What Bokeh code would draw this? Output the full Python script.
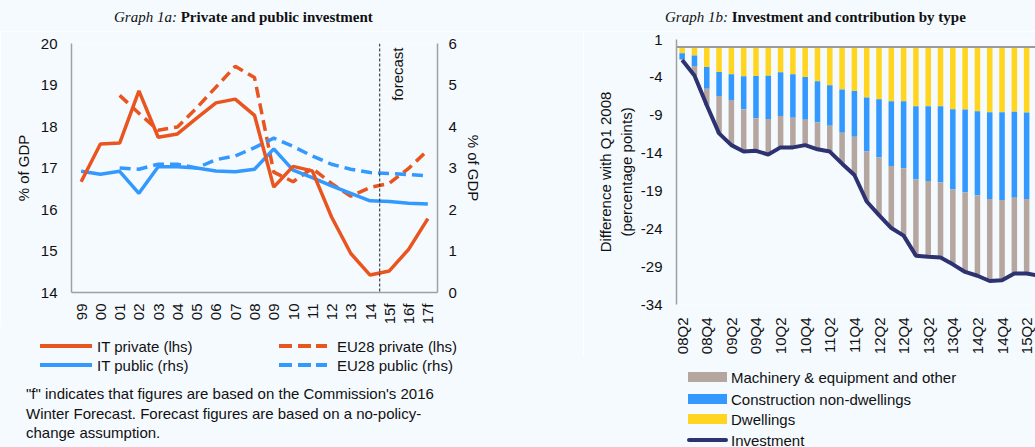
from math import pi
from bokeh.plotting import figure
from bokeh.layouts import row, column
from bokeh.models import (Range1d, LinearAxis, FixedTicker, Span, Label, ColumnDataSource, Div)
from bokeh.embed import file_html
from bokeh.resources import INLINE

# ---------------- data: Graph 1a ----------------
years = ["99", "00", "01", "02", "03", "04", "05", "06", "07", "08", "09", "10",
         "11", "12", "13", "14", "15f", "16f", "17f"]
it_private = [16.67, 17.58, 17.6, 18.86, 17.74, 17.82, 18.2, 18.57, 18.66, 18.27, 16.54,
              17.04, 16.93, 15.82, 14.94, 14.42, 14.52, 15.04, 15.78]
eu_private = [None, None, 18.75, 18.32, 17.91, 17.99, 18.45, 18.95, 19.45, 19.18, 16.9,
              16.67, 16.99, 16.63, 16.32, 16.53, 16.63, 16.99, 17.43]
it_public = [2.92, 2.85, 2.92, 2.39, 3.03, 3.03, 3.0, 2.93, 2.91, 2.97, 3.46, 2.95, 2.77,
             2.57, 2.39, 2.21, 2.19, 2.15, 2.13]
eu_public = [None, None, 3.0, 2.97, 3.09, 3.09, 3.0, 3.2, 3.29, 3.49, 3.72, 3.52, 3.29,
             3.09, 2.97, 2.89, 2.87, 2.84, 2.81]
forecast_start = 15.5  # between "14" and "15f"
legend_1a = ["IT private (lhs)", "IT public (rhs)", "EU28 private (lhs)", "EU28 public (rhs)"]

# ---------------- data: Graph 1b ----------------
quarters = ["08Q2", "08Q3", "08Q4", "09Q1", "09Q2", "09Q3", "09Q4", "10Q1", "10Q2", "10Q3",
            "10Q4", "11Q1", "11Q2", "11Q3", "11Q4", "12Q1", "12Q2", "12Q3", "12Q4", "13Q1",
            "13Q2", "13Q3", "13Q4", "14Q1", "14Q2", "14Q3", "14Q4", "15Q1", "15Q2", "15Q3"]
dwellings = [-0.8, -1.1, -2.64, -3.3, -3.6, -3.87, -3.83, -3.8, -3.34, -3.6, -3.96, -4.5,
             -5.05, -5.6, -5.8, -6.67, -6.9, -7.16, -7.16, -7.8, -7.8, -7.8, -8.2, -8.25,
             -8.47, -8.6, -8.6, -8.55, -8.65, -8.7]
construction = [-0.8, -1.4, -2.86, -3.15, -3.4, -4.33, -5.57, -5.7, -5.76, -5.75, -5.64,
                -5.46, -5.35, -5.7, -6.05, -7.13, -7.7, -8.54, -8.84, -9.7, -9.9, -10.1,
                -10.6, -10.95, -11.13, -11.45, -11.6, -11.35, -11.4, -11.5]
machinery = [-0.1, -1.24, -2.18, -4.95, -5.95, -5.6, -4.3, -4.7, -4.15, -3.9, -3.35, -3.54,
             -3.4, -4.1, -5.05, -6.6, -7.6, -8.2, -8.9, -10.05, -10.0, -9.9, -9.9, -10.5,
             -10.6, -10.85, -10.6, -10.0, -9.85, -10.0]
investment = [-1.7, -3.74, -7.68, -11.4, -12.95, -13.8, -13.7, -14.2, -13.25, -13.25, -12.95,
              -13.5, -13.8, -15.4, -16.9, -20.4, -22.2, -23.9, -24.9, -27.55, -27.7, -27.8,
              -28.7, -29.7, -30.2, -30.9, -30.8, -29.9, -29.9, -30.2]
yticks_1b = [1, -4, -9, -14, -19, -24, -29, -34]
legend_1b = ["Machinery & equipment and other", "Construction non-dwellings", "Dwellings",
             "Investment"]

# ---------------- styles ----------------
BG = "#F5FAFF"
ORANGE = "#E9551E"
BLUE = "#3399FF"
YELLOW = "#FFD520"
TAN = "#B5A69F"
NAVY = "#2D3270"
AXIS = "#A0A0A0"
TXT = "#111111"
SANS = "Liberation Sans"
FS = "15px"
DASH = "11 6"
FONT_CSS = "font-family:'Liberation Sans'; font-size:15px; color:#111111; white-space:nowrap;"


def style_axis(ax, standoff):
    ax.major_tick_line_color = None
    ax.minor_tick_line_color = None
    ax.major_tick_out = 0
    ax.major_tick_in = 0
    ax.major_label_text_font = SANS
    ax.major_label_text_font_size = FS
    ax.major_label_text_color = TXT
    ax.major_label_standoff = standoff
    ax.axis_line_color = AXIS
    ax.axis_line_width = 1.5
    ax.axis_label_text_font = SANS
    ax.axis_label_text_font_size = FS
    ax.axis_label_text_font_style = "normal"
    ax.axis_label_text_color = TXT


def title_div(width, left, italic, bold):
    html = ('<div style="padding-left:%dpx; padding-top:8px; font-family:\'Liberation Serif\'; '
            'font-size:15px; line-height:18px; white-space:nowrap; color:#111111;">'
            '<i>%s</i> <b>%s</b></div>' % (left, italic, bold))
    return Div(text=html, width=width, height=31, margin=0,
               styles={"background-color": BG, "overflow": "visible"})


def box(left, top, w, h, color, radius=0):
    return ('<div style="position:absolute; left:%.1fpx; top:%.1fpx; width:%.1fpx; height:%.1fpx; '
            'background:%s; border-radius:%.1fpx;"></div>' % (left, top, w, h, color, radius))


def text_at(left, cy, text):
    return ('<div style="position:absolute; left:%.1fpx; top:%.1fpx; line-height:19px; %s">%s</div>'
            % (left, cy - 9.5, FONT_CSS, text))


def legend_div(width, height, parts):
    html = ('<div style="position:relative; width:%dpx; height:%dpx; overflow:visible;">%s</div>'
            % (width, height, "".join(parts)))
    return Div(text=html, width=width, height=height, margin=0,
               styles={"background-color": BG, "overflow": "visible"})


# ================= Left figure =================
L0, B0 = 71, 292  # frame left / bottom in page coordinates
p1 = figure(width=583, height=296, x_range=Range1d(-0.5, 18.5), y_range=Range1d(14, 20),
            output_backend="svg", toolbar_location=None,
            min_border_left=71, min_border_right=146, min_border_top=12, min_border_bottom=35,
            background_fill_color=BG, border_fill_color=BG, outline_line_color=None)
p1.extra_y_ranges = {"right": Range1d(0, 6)}
p1.xgrid.grid_line_color = None
p1.ygrid.grid_line_color = None

xs = list(range(len(years)))
src1 = ColumnDataSource(dict(
    x=xs, itp=it_private, itq=it_public,
    eup=[float("nan") if v is None else v for v in eu_private],
    euq=[float("nan") if v is None else v for v in eu_public]))

p1.line("x", "eup", source=src1, line_color=ORANGE, line_width=3.5, line_dash=DASH)
p1.line("x", "euq", source=src1, line_color=BLUE, line_width=3.5, line_dash=DASH,
        y_range_name="right")
p1.line("x", "itq", source=src1, line_color=BLUE, line_width=3.5, y_range_name="right")
p1.line("x", "itp", source=src1, line_color=ORANGE, line_width=3.5)

p1.add_layout(Span(location=forecast_start, dimension="height", line_color="#222222",
                   line_width=1, line_dash="3 2"))
p1.add_layout(Label(x=397 - L0, y=B0 - 47, x_units="screen", y_units="screen", text="forecast",
                    angle=pi / 2, text_align="right", text_baseline="middle", text_font=SANS,
                    text_font_size=FS, text_color=TXT))

ax_l = p1.yaxis[0]
ax_l.ticker = FixedTicker(ticks=[14, 15, 16, 17, 18, 19, 20])
style_axis(ax_l, 14)
ax_l.axis_label = "% of GDP"
ax_l.axis_label_standoff = 6
ax_r = LinearAxis(y_range_name="right", ticker=FixedTicker(ticks=[0, 1, 2, 3, 4, 5, 6]))
style_axis(ax_r, 11)
ax_r.axis_label = "% of GDP"
ax_r.axis_label_standoff = 5
p1.add_layout(ax_r, "right")
ax_b = p1.xaxis[0]
ax_b.ticker = FixedTicker(ticks=xs)
ax_b.major_label_overrides = {i: y for i, y in enumerate(years)}
ax_b.major_label_orientation = pi / 2
style_axis(ax_b, 11)

# legend strip (page y 327..380); row centres at 19 and 38 within the strip
r1, r2 = 19, 38
dashes = [(279, 13), (298, 13), (316, 11)]
parts1 = [box(40, r1 - 2, 52, 4, ORANGE), text_at(97, r1, legend_1a[0]),
          box(40, r2 - 2, 52, 4, BLUE), text_at(97, r2, legend_1a[1]),
          text_at(337, r1, legend_1a[2]), text_at(337, r2, legend_1a[3])]
for x0, w in dashes:
    parts1.append(box(x0, r1 - 2, w, 4, ORANGE))
    parts1.append(box(x0, r2 - 2, w, 4, BLUE))
leg1 = legend_div(583, 53, parts1)

foot = Div(text=('<div style="padding-left:26px; padding-top:4px; line-height:19.5px; %s">'
                 '"f" indicates that figures are based on the Commission\'s 2016<br>'
                 'Winter Forecast. Forecast figures are based on a no-policy-<br>'
                 'change assumption.</div>' % FONT_CSS),
           width=583, height=67, margin=0, styles={"background-color": BG})

left = column(title_div(583, 114, "Graph 1a:", "Private and public investment"), p1, leg1, foot,
              spacing=0)

# ================= Right figure =================
p2 = figure(width=452, height=326, x_range=Range1d(-0.46, 28.72), y_range=Range1d(-34, 1),
            output_backend="svg", toolbar_location=None,
            min_border_left=93, min_border_right=0, min_border_top=8, min_border_bottom=52,
            background_fill_color=BG, border_fill_color=BG, outline_line_color=None)
p2.xgrid.grid_line_color = None
p2.ygrid.grid_line_color = None

qx = list(range(len(quarters)))
src2 = ColumnDataSource(dict(x=qx, dw=dwellings, cn=construction, me=machinery, inv=investment))
p2.vbar_stack(["dw", "cn", "me"], x="x", width=0.45, source=src2,
              color=[YELLOW, BLUE, TAN], line_color=None)
p2.add_layout(Span(location=0, dimension="width", line_color="#9A9A9A", line_width=2))
p2.line("x", "inv", source=src2, line_color=NAVY, line_width=4)

ay = p2.yaxis[0]
ay.ticker = FixedTicker(ticks=yticks_1b)
ay.major_label_overrides = {v: str(v) for v in yticks_1b}
style_axis(ay, 14)
ay.axis_label = "Difference with Q1 2008\n(percentage points)"
ay.axis_label_standoff = 3
axq = p2.xaxis[0]
axq.ticker = FixedTicker(ticks=qx[::2])
axq.major_label_overrides = {i: quarters[i] for i in qx[::2]}
axq.major_label_orientation = pi / 2
style_axis(axq, 13)
axq.axis_line_color = None

# legend strip (page y 357..447, x from 583)
rows_b = [20.3, 42, 62.3, 83]
sw_colors = [TAN, BLUE, YELLOW]
parts2 = []
for i, c in enumerate(sw_colors):
    parts2.append(box(104.7, rows_b[i] - 5, 39, 10, c))
parts2.append(box(103.7, rows_b[3] - 2, 41.6, 4, NAVY, 2))
for i, t in enumerate(legend_1b):
    parts2.append(text_at(148, rows_b[i], t.replace("&", "&amp;")))
leg2 = legend_div(452, 90, parts2)

right = column(title_div(452, 82, "Graph 1b:", "Investment and contribution by type"), p2, leg2,
               spacing=0)

layout = row(left, right, spacing=0)
open("out.html", "w").write(file_html(layout, INLINE))
